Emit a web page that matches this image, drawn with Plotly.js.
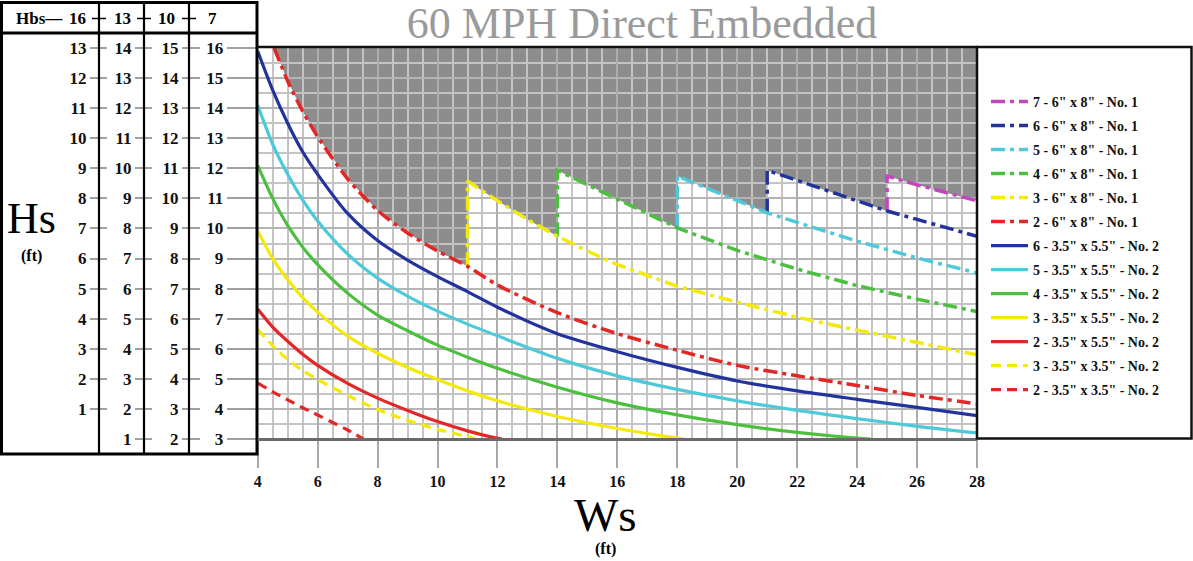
<!DOCTYPE html>
<html>
<head>
<meta charset="utf-8">
<script src="https://cdn.plot.ly/plotly-3.0.1.min.js"></script>
<style>
  html, body { margin: 0; padding: 0; background: #ffffff; }
  #chart { width: 1193px; height: 561px; }
</style>
</head>
<body>
<div id="chart"></div>
<script>
// ---------------- DATA ----------------
const chartTitle = '60 MPH Direct Embedded';
const wsTicks = [4, 6, 8, 10, 12, 14, 16, 18, 20, 22, 24, 26, 28];
const wsRange = [4, 28];
const hsRange = [3, 16];
// Hs levels (at Hbs = 7) and the matching labels for each Hbs column
const hbsColumns = ['16', '13', '10', '7'];
const hsLevels = [3, 4, 5, 6, 7, 8, 9, 10, 11, 12, 13, 14, 15, 16];
const hsLabelsHbs16 = ['', '1', '2', '3', '4', '5', '6', '7', '8', '9', '10', '11', '12', '13'];
const hsLabelsHbs13 = ['1', '2', '3', '4', '5', '6', '7', '8', '9', '10', '11', '12', '13', '14'];
const hsLabelsHbs10 = ['2', '3', '4', '5', '6', '7', '8', '9', '10', '11', '12', '13', '14', '15'];
const hsLabelsHbs7  = ['3', '4', '5', '6', '7', '8', '9', '10', '11', '12', '13', '14', '15', '16'];

// 6" x 8" No. 1 (dash-dot)
const ws7x6x8 = [25, 25, 26, 27, 28];
const hs7x6x8 = [10.58, 11.74, 11.45, 11.18, 10.92];
const ws6x6x8 = [21, 21, 22, 23, 24, 25, 26, 27, 28];
const hs6x6x8 = [10.52, 11.93, 11.6, 11.25, 10.92, 10.58, 10.3, 10.02, 9.74];
const ws5x6x8 = [18, 18, 19, 20, 21, 22, 24, 26, 28];
const hs5x6x8 = [10.02, 11.74, 11.33, 10.93, 10.52, 10.2, 9.58, 9.02, 8.52];
const ws4x6x8 = [14, 14, 15, 16, 17, 18, 20, 22, 24, 26, 28];
const hs4x6x8 = [9.74, 11.93, 11.45, 10.97, 10.5, 10.02, 9.27, 8.65, 8.1, 7.65, 7.24];
const ws3x6x8 = [11, 11, 12, 13, 14, 15, 16, 18, 20, 22, 24, 26, 28];
const hs3x6x8 = [8.74, 11.58, 10.92, 10.3, 9.74, 9.25, 8.8, 8.08, 7.55, 7.05, 6.62, 6.2, 5.8];
const ws2x6x8 = [4.55, 5, 5.5, 6, 7, 8, 9, 10, 11, 12, 14, 16, 18, 20, 22, 24, 26, 28];
const hs2x6x8 = [16.0, 14.9, 13.9, 13.05, 11.65, 10.6, 9.85, 9.25, 8.74, 8.12, 7.2, 6.5, 5.95, 5.45, 5.1, 4.78, 4.45, 4.17];

// 3.5" x 5.5" No. 2 (solid)
const ws6x35x55 = [4, 4.5, 5, 5.5, 6, 7, 8, 9, 10, 11, 12, 14, 16, 18, 20, 22, 24, 26, 28];
const hs6x35x55 = [15.9, 14.6, 13.5, 12.55, 11.8, 10.5, 9.6, 8.95, 8.4, 7.9, 7.38, 6.5, 5.9, 5.38, 4.93, 4.6, 4.32, 4.05, 3.78];
const ws5x35x55 = [4, 4.5, 5, 5.5, 6, 7, 8, 9, 10, 11, 12, 14, 16, 18, 20, 22, 24, 26, 28];
const hs5x35x55 = [14.1, 12.8, 11.8, 10.95, 10.25, 9.15, 8.35, 7.75, 7.25, 6.82, 6.43, 5.68, 5.1, 4.65, 4.27, 3.95, 3.68, 3.42, 3.2];
const ws4x35x55 = [4, 4.5, 5, 5.5, 6, 7, 8, 9, 10, 11, 12, 14, 16, 18, 20, 22, 24, 24.45];
const hs4x35x55 = [12.1, 11.0, 10.1, 9.38, 8.8, 7.85, 7.12, 6.6, 6.12, 5.72, 5.35, 4.72, 4.2, 3.8, 3.48, 3.22, 3.03, 3.0];
const ws3x35x55 = [4, 4.5, 5, 5.5, 6, 7, 8, 9, 10, 11, 12, 14, 16, 18, 18.25];
const hs3x35x55 = [9.92, 9.0, 8.3, 7.7, 7.22, 6.42, 5.85, 5.38, 4.98, 4.6, 4.27, 3.75, 3.35, 3.03, 3.0];
const ws2x35x55 = [4, 4.5, 5, 5.5, 6, 7, 8, 9, 10, 11, 12, 12.15];
const hs2x35x55 = [7.32, 6.72, 6.25, 5.82, 5.45, 4.85, 4.36, 3.95, 3.58, 3.27, 3.02, 3.0];

// 3.5" x 3.5" No. 2 (dashed)
const ws3x35x35 = [4, 4.5, 5, 5.5, 6, 7, 8, 9, 10, 11, 11.28];
const hs3x35x35 = [6.65, 6.1, 5.65, 5.28, 4.98, 4.45, 3.98, 3.62, 3.32, 3.08, 3.0];
const ws2x35x35 = [4, 4.5, 5, 5.5, 6, 6.5, 7, 7.52];
const hs2x35x35 = [4.86, 4.57, 4.3, 4.04, 3.8, 3.55, 3.3, 3.0];

const seriesNames = [
  '7 - 6" x 8" - No. 1', '6 - 6" x 8" - No. 1', '5 - 6" x 8" - No. 1',
  '4 - 6" x 8" - No. 1', '3 - 6" x 8" - No. 1', '2 - 6" x 8" - No. 1',
  '6 - 3.5" x 5.5" - No. 2', '5 - 3.5" x 5.5" - No. 2', '4 - 3.5" x 5.5" - No. 2',
  '3 - 3.5" x 5.5" - No. 2', '2 - 3.5" x 5.5" - No. 2',
  '3 - 3.5" x 3.5" - No. 2', '2 - 3.5" x 3.5" - No. 2'
];

// ---------------- STYLE ----------------
const C = {
  magenta: '#c545c0', navy: '#23339c', cyan: '#4ec9d9', green: '#4cbf3f',
  yellow: '#f3e90a', red: '#e32626'
};
const DASHDOT = '14px,5px,4px,5px';
const DASH = '10px,6px';
const SERIF = 'Liberation Serif, Times New Roman, serif';

const W = 1193, H = 561;
const px = v => v / W;
const py = v => 1 - v / H;
const plotL = 257.7, plotR = 977, plotT = 48, plotB = 439;

const specs = [
  [ws7x6x8, hs7x6x8, C.magenta, DASHDOT, 'linear', 3.5],
  [ws6x6x8, hs6x6x8, C.navy, DASHDOT, 'linear', 3.5],
  [ws5x6x8, hs5x6x8, C.cyan, DASHDOT, 'linear', 3.5],
  [ws4x6x8, hs4x6x8, C.green, DASHDOT, 'linear', 3.5],
  [ws3x6x8, hs3x6x8, C.yellow, DASHDOT, 'linear', 3.5],
  [ws2x6x8, hs2x6x8, C.red, DASHDOT, 'spline', 3.5],
  [ws6x35x55, hs6x35x55, C.navy, 'solid', 'spline', 3.2],
  [ws5x35x55, hs5x35x55, C.cyan, 'solid', 'spline', 3.2],
  [ws4x35x55, hs4x35x55, C.green, 'solid', 'spline', 3.2],
  [ws3x35x55, hs3x35x55, C.yellow, 'solid', 'spline', 3.2],
  [ws2x35x55, hs2x35x55, C.red, 'solid', 'spline', 3.2],
  [ws3x35x35, hs3x35x35, C.yellow, DASH, 'spline', 3.2],
  [ws2x35x35, hs2x35x35, C.red, DASH, 'spline', 3.2]
];

const traces = specs.map((s, i) => ({
  type: 'scatter', mode: 'lines', x: s[0], y: s[1], name: seriesNames[i],
  legendgroup: 'g' + i,
  line: { color: s[2], dash: s[3], shape: s[4], width: s[5], smoothing: 0.8 },
  hoverinfo: 'x+y+name'
}));
// empty carriers so that the extra Hbs column axes are drawn
['y2', 'y3', 'y4'].forEach(a => traces.push({
  type: 'scatter', mode: 'lines', x: [], y: [], yaxis: a, showlegend: false, hoverinfo: 'skip'
}));

// gray (not allowed) region above the 6"x8" envelope
function upTo(xs, ys, xmax) {
  const out = [];
  for (let i = 0; i < xs.length; i++) if (xs[i] <= xmax) out.push([xs[i], ys[i]]);
  return out;
}
const envelope = [].concat(
  upTo(ws2x6x8, hs2x6x8, ws3x6x8[0]),
  upTo(ws3x6x8, hs3x6x8, ws4x6x8[0]),
  upTo(ws4x6x8, hs4x6x8, ws5x6x8[0]),
  upTo(ws5x6x8, hs5x6x8, ws6x6x8[0]),
  upTo(ws6x6x8, hs6x6x8, ws7x6x8[0]),
  upTo(ws7x6x8, hs7x6x8, wsRange[1])
);
envelope.push([wsRange[1], hsRange[1]]);
envelope.push([envelope[0][0], hsRange[1]]);
const grayPath = 'M' + envelope.map(p => p[0] + ',' + p[1]).join('L') + 'Z';

const tickFont = { family: SERIF, size: 17, color: '#111', weight: 'bold' };

function colAxis(labels, pos, len) {
  const vals = [], txt = [];
  labels.forEach((l, i) => { if (l !== '') { vals.push(hsLevels[i]); txt.push(l); } });
  return {
    overlaying: 'y', anchor: 'free', position: px(pos), side: 'left',
    range: hsRange, tickmode: 'array', tickvals: vals, ticktext: txt,
    ticks: 'outside', ticklen: len, tickcolor: '#a0a0a0', tickwidth: 1.5,
    tickfont: tickFont,
    showgrid: false, zeroline: false, showline: false, fixedrange: true
  };
}

const dividers = [99, 144, 189];
const headerCenters = [77, 122, 166, 212];
const lineBlack = { color: '#000', width: 3 };

const shapes = [
  { type: 'path', xref: 'x', yref: 'y', path: grayPath, fillcolor: '#8d8d8d', line: { width: 0 }, layer: 'below' },
  // left table
  { type: 'rect', xref: 'paper', yref: 'paper', x0: px(1.5), x1: px(257), y0: py(454), y1: py(2.5), line: lineBlack },
  { type: 'line', xref: 'paper', yref: 'paper', x0: px(0), x1: px(257), y0: py(33), y1: py(33), line: lineBlack },
  // plot frame
  { type: 'line', xref: 'paper', yref: 'paper', x0: px(257), x1: px(977), y0: py(47), y1: py(47), line: { color: '#111', width: 2.5 } },
  { type: 'line', xref: 'paper', yref: 'paper', x0: px(plotL), x1: px(977), y0: py(439.5), y1: py(439.5), line: { color: '#6a6a6a', width: 3 } },
  // legend box
  { type: 'rect', xref: 'paper', yref: 'paper', x0: px(977), x1: px(1191.5), y0: py(438.5), y1: py(47), line: { color: '#111', width: 2.5 } }
];
dividers.forEach(d => {
  shapes.push({ type: 'line', xref: 'paper', yref: 'paper', x0: px(d), x1: px(d), y0: py(2.5), y1: py(454), line: { color: '#000', width: 2.2 } });
  shapes.push({ type: 'line', xref: 'paper', yref: 'paper', x0: px(d - 7), x1: px(d + 7), y0: py(18.5), y1: py(18.5), line: { color: '#000', width: 1.5 } });
});

const annotations = [
  { xref: 'paper', yref: 'paper', x: px(14), y: py(19), xanchor: 'left', yanchor: 'middle', showarrow: false,
    text: 'Hbs—', font: { family: SERIF, size: 17, color: '#000', weight: 'bold' } },
  { xref: 'paper', yref: 'paper', x: px(31), y: py(218), xanchor: 'center', yanchor: 'middle', showarrow: false,
    text: 'Hs', font: { family: SERIF, size: 44, color: '#000' } },
  { xref: 'paper', yref: 'paper', x: px(31), y: py(256), xanchor: 'center', yanchor: 'middle', showarrow: false,
    text: '(ft)', font: { family: SERIF, size: 16, color: '#000', weight: 'bold' } },
  { xref: 'paper', yref: 'paper', x: px(605), y: py(515), xanchor: 'center', yanchor: 'middle', showarrow: false,
    text: 'Ws', font: { family: SERIF, size: 47, color: '#000' } },
  { xref: 'paper', yref: 'paper', x: px(605), y: py(549), xanchor: 'center', yanchor: 'middle', showarrow: false,
    text: '(ft)', font: { family: SERIF, size: 16, color: '#000', weight: 'bold' } }
];
hbsColumns.forEach((t, i) => annotations.push({
  xref: 'paper', yref: 'paper', x: px(headerCenters[i]), y: py(19), xanchor: 'center', yanchor: 'middle',
  showarrow: false, text: t, font: { family: SERIF, size: 17, color: '#000', weight: 'bold' }
}));

const layout = {
  width: W, height: H,
  margin: { l: 0, r: 0, t: 0, b: 0, pad: 0 },
  paper_bgcolor: '#ffffff', plot_bgcolor: '#ffffff',
  title: { text: chartTitle, font: { family: SERIF, size: 44, color: '#9a9a9a' },
           x: px(642), xref: 'container', xanchor: 'center', y: py(23), yref: 'container', yanchor: 'middle' },
  showlegend: true,
  legend: {
    x: px(986), y: py(86), xanchor: 'left', yanchor: 'top', xref: 'paper', yref: 'paper',
    bgcolor: 'rgba(0,0,0,0)', borderwidth: 0, itemwidth: 37, tracegroupgap: 2.8,
    font: { family: SERIF, size: 14, color: '#111', weight: 'bold' }
  },
  xaxis: {
    domain: [px(plotL), px(plotR)], range: wsRange, anchor: 'y',
    tickmode: 'array', tickvals: wsTicks, ticks: 'outside', ticklen: 28, tickcolor: '#a8a8a8', tickwidth: 1.5,
    tickfont: { family: SERIF, size: 16, color: '#111', weight: 'bold' },
    showgrid: true, gridcolor: '#adadad', gridwidth: 2,
    minor: { tick0: 4, dtick: 0.5, showgrid: true, gridcolor: '#c4c4c4', gridwidth: 1.5, ticks: '' },
    zeroline: false, showline: false, fixedrange: true
  },
  yaxis: {
    domain: [py(plotB), py(plotT)], range: hsRange, anchor: 'x',
    tickmode: 'array', tickvals: hsLevels, ticktext: hsLabelsHbs7,
    ticks: 'outside', ticklen: 30, tickcolor: '#a0a0a0', tickwidth: 1.5, tickfont: tickFont,
    showgrid: true, gridcolor: '#b4b4b4', gridwidth: 1.8,
    minor: { tick0: 3, dtick: 0.5, showgrid: true, gridcolor: '#c4c4c4', gridwidth: 1.5, ticks: '' },
    zeroline: false, showline: false, fixedrange: true
  },
  yaxis2: colAxis(hsLabelsHbs10, 200, 18),
  yaxis3: colAxis(hsLabelsHbs13, 152, 17),
  yaxis4: colAxis(hsLabelsHbs16, 107, 17),
  shapes: shapes,
  annotations: annotations
};

Plotly.newPlot('chart', traces, layout, { displayModeBar: false, responsive: false });
</script>
</body>
</html>
